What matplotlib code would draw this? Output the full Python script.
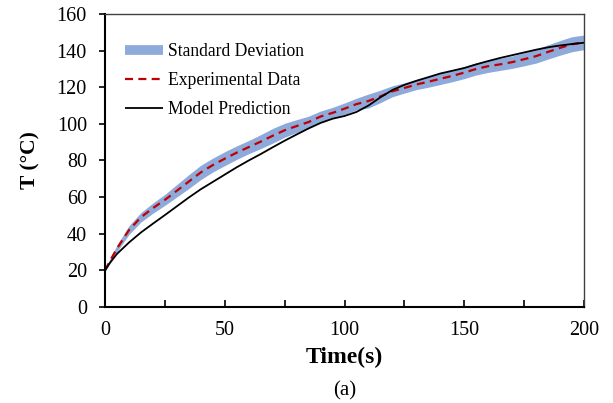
import matplotlib
matplotlib.use("Agg")
import matplotlib.pyplot as plt
from matplotlib.lines import Line2D
from matplotlib.ticker import MultipleLocator

plt.rcParams['font.family'] = 'Liberation Serif'

# values
time_s = [0, 2, 5, 10, 15, 20, 25, 30, 35, 40, 45, 50, 55, 60, 65, 70, 75, 80,
          85, 90, 95, 100, 105, 110, 115, 120, 125, 130, 135, 140, 145, 150,
          155, 160, 165, 170, 175, 180, 185, 190, 195, 200]

exp_T = [20, 25, 32, 42, 49, 54, 58.5, 63.5, 68.5, 73.5, 77.5, 81, 84.3, 87.3,
         90.3, 93.5, 96.5, 98.8, 101, 104, 106, 108.3, 110.8, 112.5, 115, 117.8,
         119.6, 121.5, 123, 124.6, 126.2, 128, 130, 131.5, 132.5, 133.7, 135.3,
         137, 139.3, 141.5, 143.5, 144.5]

exp_sd = [0.5, 1.2, 1.8, 2.4, 2.6, 2.8, 3.0, 3.4, 3.8, 3.9, 3.8, 3.8, 3.7, 3.6,
          3.8, 4.0, 3.8, 3.5, 3.2, 3.0, 3.0, 3.1, 3.2, 3.8, 3.4, 3.0, 2.8, 2.8,
          3.0, 3.1, 3.2, 3.3, 3.3, 3.4, 3.3, 3.4, 3.6, 3.8, 3.9, 4.0, 4.1, 4.0]

model_T = [20, 24, 29, 35.2, 40.7, 45.5, 50.2, 55, 59.8, 64.3, 68.3, 72.3, 76.3,
           80, 83.5, 87.2, 90.8, 94.2, 97.5, 100.5, 102.8, 104.3, 106.5, 110,
           114.5, 118.5, 121.3, 123.5, 125.5, 127.5, 129, 130.5, 132.5, 134.3,
           136, 137.5, 139, 140.5, 141.8, 142.8, 143.6, 144.3]

lower = [m - s for m, s in zip(exp_T, exp_sd)]
upper = [m + s for m, s in zip(exp_T, exp_sd)]

fig = plt.figure(figsize=(6.13, 4.03), dpi=100)
ax = fig.add_axes([0.1713, 0.2382, 0.7814, 0.7271])

blue = '#8eaadb'
ax.fill_between(time_s, lower, upper, color=blue, linewidth=0)
ax.plot(time_s, exp_T, color='#c00000', linewidth=1.6, dashes=(3.6, 2.4))
ax.plot(time_s, model_T, color='black', linewidth=1.3)

ax.set_xlim(0, 200)
ax.set_ylim(0, 160)
ax.xaxis.set_major_locator(MultipleLocator(50))
ax.xaxis.set_minor_locator(MultipleLocator(25))
ax.yaxis.set_major_locator(MultipleLocator(20))

ax.tick_params(axis='x', which='both', direction='in', length=5, width=1.2,
               labelsize=14.5, pad=10)
ax.tick_params(axis='y', direction='out', length=4.5, width=1.2,
               labelsize=14.5, pad=8.5)

for side in ['left', 'bottom']:
    ax.spines[side].set_linewidth(1.5)
    ax.spines[side].set_color('black')
for side in ['top', 'right']:
    ax.spines[side].set_linewidth(1.0)
    ax.spines[side].set_color('#404040')

ax.set_xlabel('Time(s)', fontsize=17, fontweight='bold', labelpad=5)
ax.set_ylabel('T (°C)', fontsize=15.5, fontweight='bold', labelpad=12)
fig.text(0.563, 0.03, '(a)', fontsize=15, ha='center', va='center')

handles = [Line2D([], [], color=blue, linewidth=7, solid_capstyle='butt'),
           Line2D([], [], color='#c00000', linewidth=1.6, dashes=(3.6, 2.4)),
           Line2D([], [], color='black', linewidth=1.3, solid_capstyle='butt')]
labels = ['Standard Deviation', 'Experimental Data', 'Model Prediction']
ax.legend(handles, labels, loc='upper left', bbox_to_anchor=(0.042, 0.90),
          frameon=False, fontsize=12.7, handlelength=2.15, handletextpad=0.3,
          labelspacing=0.68, borderpad=0, borderaxespad=0)

fig.savefig('out.png', dpi=100)
